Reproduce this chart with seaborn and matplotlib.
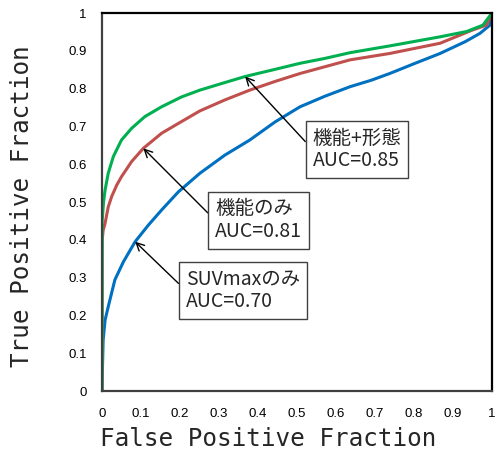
import numpy as np
import pandas as pd
import matplotlib
matplotlib.use("Agg")
import matplotlib.pyplot as plt
import seaborn as sns

# ROC points
fpr_suv = [0, 0.0005, 0.003, 0.008, 0.016, 0.033, 0.055, 0.085, 0.119, 0.153, 0.196, 0.251,
           0.315, 0.379, 0.444, 0.508, 0.572, 0.636, 0.69, 0.738, 0.803, 0.867, 0.931, 0.969, 0.995, 1.0]
tpr_suv = [0, 0.03, 0.135, 0.188, 0.223, 0.294, 0.342, 0.395, 0.439, 0.479, 0.527, 0.576,
           0.624, 0.664, 0.712, 0.752, 0.780, 0.805, 0.822, 0.840, 0.867, 0.893, 0.924, 0.946, 0.968, 1.0]

fpr_func = [0, 0.0005, 0.003, 0.008, 0.016, 0.025, 0.038, 0.050, 0.076, 0.106, 0.153, 0.196, 0.251,
            0.315, 0.379, 0.444, 0.508, 0.572, 0.636, 0.738, 0.867, 0.95, 0.986, 1.0]
tpr_func = [0, 0.40, 0.425, 0.444, 0.487, 0.515, 0.545, 0.567, 0.607, 0.642, 0.682, 0.708, 0.741,
            0.770, 0.796, 0.819, 0.840, 0.858, 0.876, 0.893, 0.920, 0.955, 0.968, 1.0]

fpr_both = [0, 0.0005, 0.004, 0.008, 0.016, 0.029, 0.050, 0.076, 0.110, 0.153, 0.204, 0.251,
            0.315, 0.367, 0.444, 0.508, 0.572, 0.636, 0.738, 0.867, 0.935, 0.977, 1.0]
tpr_both = [0, 0.45, 0.50, 0.532, 0.576, 0.620, 0.664, 0.695, 0.726, 0.752, 0.778, 0.796,
            0.816, 0.832, 0.851, 0.867, 0.880, 0.895, 0.913, 0.937, 0.951, 0.968, 1.0]

models = ["SUVmaxのみ", "機能のみ", "機能+形態"]
auc = [0.70, 0.81, 0.85]
colors = ["#0070C0", "#C0504D", "#00B050"]

df = pd.concat([
    pd.DataFrame({"fpr": fpr_suv, "tpr": tpr_suv, "model": models[0]}),
    pd.DataFrame({"fpr": fpr_func, "tpr": tpr_func, "model": models[1]}),
    pd.DataFrame({"fpr": fpr_both, "tpr": tpr_both, "model": models[2]}),
])

sns.set_style("white")
plt.rcParams["font.family"] = ["Noto Sans CJK JP", "DejaVu Sans"]

fig = plt.figure(figsize=(4.97, 4.61), dpi=100)
ax = fig.add_axes([0.2052, 0.1518, 0.7847, 0.82])

sns.lineplot(data=df, x="fpr", y="tpr", hue="model", hue_order=models,
             palette=colors, estimator=None, sort=False, linewidth=2.2,
             legend=False, ax=ax)

ax.set_xlim(0, 1)
ax.set_ylim(0, 1)
ticks = np.round(np.arange(0, 1.01, 0.1), 1)
tick_labels = ["0" if t == 0 else ("1" if t == 1 else f"{t:.1f}") for t in ticks]
ax.set_xticks(ticks)
ax.set_xticklabels(tick_labels)
ax.set_yticks(ticks)
ax.set_yticklabels(tick_labels)
ax.tick_params(axis="both", direction="in", length=4, width=1, color="#BFBFBF",
               labelsize=9.5, labelcolor="black")
ax.tick_params(axis="x", pad=12)
ax.tick_params(axis="y", pad=11)
for lab in ax.get_xticklabels() + ax.get_yticklabels():
    lab.set_family("Liberation Sans")

for side in ["top", "right", "left", "bottom"]:
    ax.spines[side].set_visible(True)
    ax.spines[side].set_color("black")
    ax.spines[side].set_linewidth(1.6)
ax.spines["left"].set_color("#404040")
ax.spines["bottom"].set_color("#404040")

ax.set_xlabel("False Positive Fraction", family="DejaVu Sans Mono", fontsize=17.5)
ax.set_ylabel("True Positive Fraction", family="DejaVu Sans Mono", fontsize=17.5)
ax.xaxis.set_label_coords(0.426, -0.095)
ax.yaxis.set_label_coords(-0.175, 0.49)

# label boxes with arrows pointing to the curves
heads = [(0.085, 0.395), (0.106, 0.642), (0.367, 0.832)]
text_pos = [(0.215, 0.266), (0.29, 0.452), (0.54, 0.639)]
for name, a, head, pos in zip(models, auc, heads, text_pos):
    ax.annotate(f"{name}\nAUC={a:.2f}", xy=head, xytext=pos,
                ha="left", va="center", fontsize=14, linespacing=1.1,
                bbox=dict(boxstyle="square,pad=0.35", fc="white", ec="#404040", lw=1),
                arrowprops=dict(arrowstyle="->", color="black", lw=1,
                                relpos=(0, 0.5), shrinkA=0, shrinkB=0))

fig.savefig("out.png", dpi=100)
